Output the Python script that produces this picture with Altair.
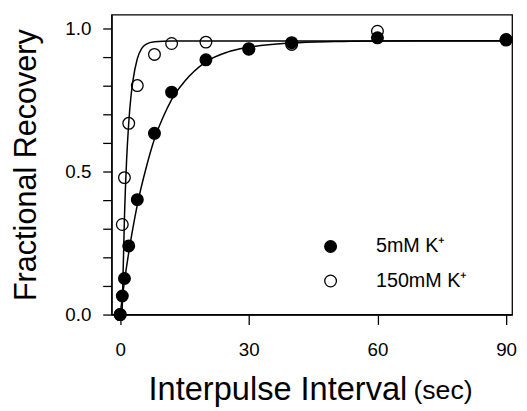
import altair as alt
import pandas as pd

# Measured points
interval = [0, 0.5, 1, 2, 4, 8, 12, 20, 30, 40, 60, 90]
rec_5mM = [0, 0.065, 0.126, 0.24, 0.402, 0.634, 0.778, 0.891, 0.928, 0.951, 0.968, 0.962]
rec_150mM = [0, 0.315, 0.479, 0.669, 0.801, 0.910, 0.948, 0.953, 0.93, 0.945, 0.991, 0.96]

# Fitted curves
fit5_x = [0, 0.5, 1, 2, 3, 4, 6, 8, 10, 12, 15, 20, 25, 30, 40, 50, 60, 75, 91.4]
fit5_y = [0, 0.06, 0.116, 0.217, 0.305, 0.384, 0.51, 0.614, 0.69, 0.752, 0.815, 0.884, 0.918, 0.935, 0.95, 0.955, 0.957, 0.958, 0.958]
fit150_x = [0.45, 1, 1.5, 2, 2.5, 3, 4, 5, 6, 8, 12, 91.4]
fit150_y = [0, 0.34, 0.54, 0.67, 0.76, 0.82, 0.895, 0.93, 0.945, 0.954, 0.957, 0.957]

y_ticks = [0, 0.1, 0.2, 0.3, 0.4, 0.5, 0.6, 0.7, 0.8, 0.9, 1.0]
x_ticks = [0, 30, 60, 90]

lab5 = "5mM K\u207a"
lab150 = "150mM K\u207a"

FONT = "Liberation Sans"

pts = pd.DataFrame(
    {"x": interval + interval,
     "y": rec_150mM + rec_5mM,
     "series": [lab150] * len(interval) + [lab5] * len(interval)}
)
fits = pd.DataFrame(
    {"x": fit150_x + fit5_x,
     "y": fit150_y + fit5_y,
     "curve": ["c150"] * len(fit150_x) + ["c5"] * len(fit5_x)}
)

xscale = alt.Scale(domain=[-2, 91.4], nice=False, zero=False)
yscale = alt.Scale(domain=[0, 1.049], nice=False, zero=False)

xaxis = alt.Axis(
    values=x_ticks, format="d", grid=False,
    tickSize=10, tickWidth=1.3, tickColor="black",
    domainColor="black", domainWidth=1.3,
    labelFont=FONT, labelFontSize=19, labelColor="black",
    labelBaseline="alphabetic", labelPadding=31, labelFlush=False, labelOverlap=False,
    title="Interpulse Interval", titleFont=FONT, titleFontSize=33,
    titleFontWeight="normal", titleColor="black",
    titleAlign="left", titleBaseline="alphabetic", titleX=37, titleY=86,
)
yaxis = alt.Axis(
    values=y_ticks, grid=False,
    labelExpr="(abs(datum.value) < 0.001 || abs(datum.value - 0.5) < 0.001 || abs(datum.value - 1) < 0.001) ? format(datum.value, '.1f') : ''",
    labelOverlap=False, labelFlush=False,
    tickSize=9, tickWidth=1.3, tickColor="black",
    domainColor="black", domainWidth=1.3,
    labelFont=FONT, labelFontSize=19, labelColor="black", labelPadding=12,
    title="Fractional Recovery", titleFont=FONT, titleFontSize=31,
    titleFontWeight="normal", titleColor="black",
    titleBaseline="alphabetic", titleX=-77,
)

lines = alt.Chart(fits).mark_line(color="black", strokeWidth=1.5, interpolate="monotone").encode(
    x=alt.X("x:Q", scale=xscale, axis=xaxis),
    y=alt.Y("y:Q", scale=yscale, axis=yaxis),
    detail="curve:N",
)

points = alt.Chart(pts).mark_point(
    shape="circle", size=140, stroke="black", strokeWidth=1.3, opacity=1, filled=False
).encode(
    x=alt.X("x:Q", scale=xscale, axis=xaxis),
    y=alt.Y("y:Q", scale=yscale, axis=yaxis),
    fill=alt.Fill(
        "series:N",
        scale=alt.Scale(domain=[lab5, lab150], range=["black", "transparent"]),
        legend=alt.Legend(
            title=None, orient="none", legendX=212, legendY=225,
            symbolType="circle", symbolSize=140, symbolStrokeColor="black",
            symbolStrokeWidth=1.3, labelFont=FONT, labelFontSize=20,
            labelColor="black", labelOffset=36, rowPadding=15, padding=0,
        ),
    ),
)

sec = alt.Chart(pd.DataFrame({"t": ["(sec)"]})).mark_text(
    font=FONT, fontSize=27, color="black", align="left", baseline="alphabetic"
).encode(text="t:N", x=alt.value(306), y=alt.value(390))

chart = alt.layer(lines, points, sec).properties(
    width=406, height=304,
    padding={"left": 105, "top": 4, "right": 7, "bottom": 95},
    autosize=alt.AutoSizeParams(type="none"),
    background="white",
).configure_view(
    stroke="black", strokeWidth=1.3
).configure_axis(labelOverlap=False)

chart.save("out.html", embed_options={"renderer": "svg", "actions": False})
